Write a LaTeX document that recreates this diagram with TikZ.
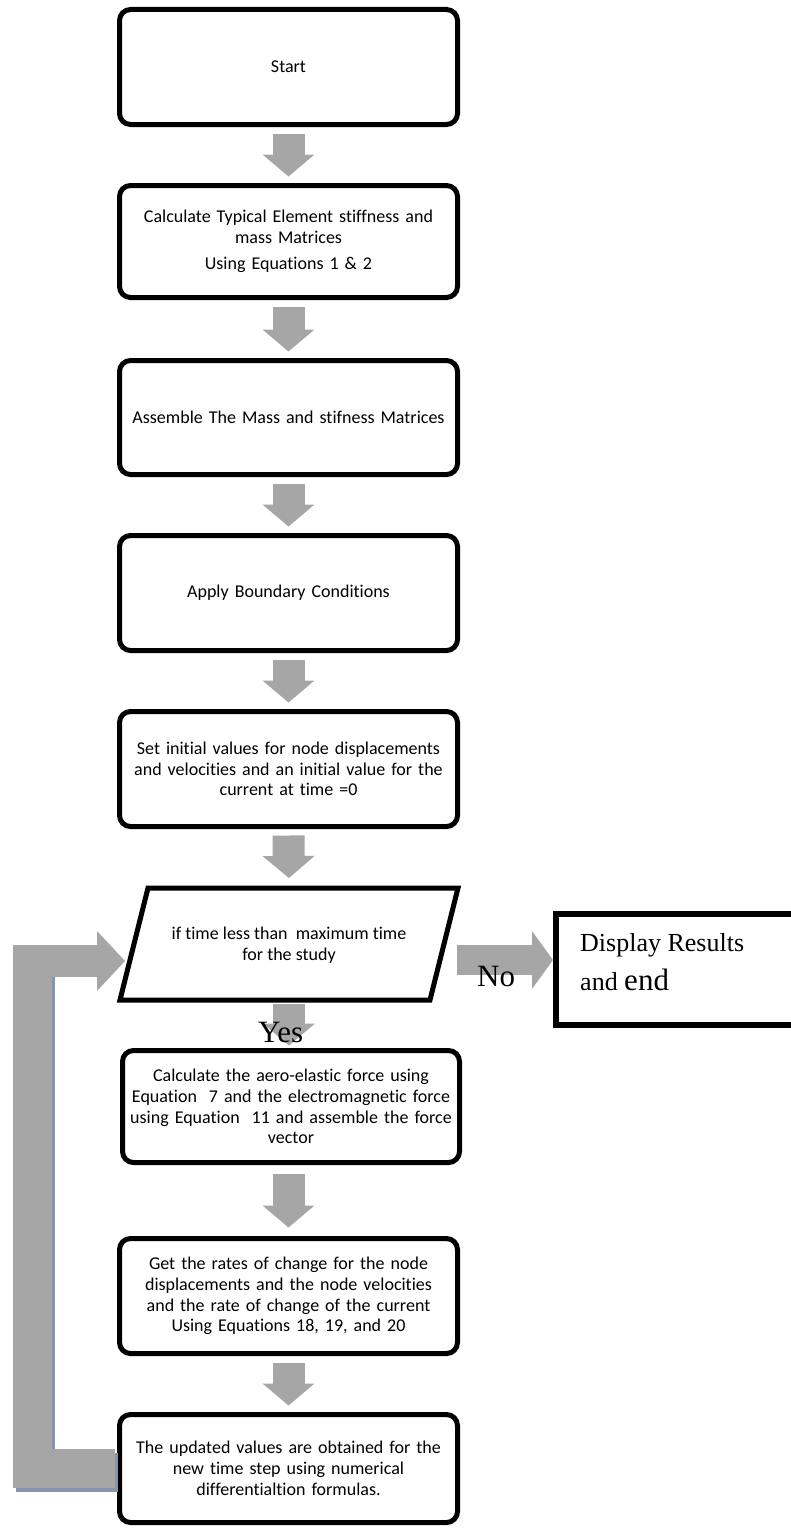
\documentclass[tikz,border=0pt]{standalone}
\usepackage{fontspec}
\setmainfont{Carlito}[Ligatures=NoCommon]
\newfontfamily\tnr{Liberation Serif}
\usetikzlibrary{arrows.meta,calc}
\definecolor{arrowgrey}{HTML}{A6A6A6}
\definecolor{shadowblue}{HTML}{8796AE}
\begin{document}
\begin{tikzpicture}[x=1pt,y=-1pt,
  stepbox/.style={draw, line width=5pt, rounded corners=11pt, outer sep=0pt, inner sep=0pt,
    minimum width=338pt, text width=336pt, align=center,
    font=\fontsize{18}{20.7}\selectfont},
  flowarrow/.style={arrowgrey, line width=32pt, shorten <=9pt, shorten >=9pt,
    -{Triangle[length=22pt,width=52pt,line width=0pt]}},
  noarrow/.style={arrowgrey, line width=30pt,
    -{Triangle[length=21pt,width=58pt,line width=0pt]}},
  looparrow/.style={arrowgrey, line width=32pt,
    -{Triangle[length=28pt,width=60pt,line width=0pt]}},
  label/.style={inner sep=0pt, font=\tnr\fontsize{31}{36}\selectfont}
]
\useasboundingbox (0,0) rectangle (791,1528);
\fill[white] (0,0) rectangle (791,1528);
\clip (0,0) rectangle (791,1528);

% boxes
\node[stepbox, minimum height=115pt] (b1) at (288.5,67) {Start};
\node[stepbox, minimum height=112pt] (b2) at (288.5,241.5) {Calculate Typical Element stiffness and\\ mass Matrices\\[6pt] Using Equations 1 \& 2};
\node[stepbox, minimum height=114pt] (b3) at (288.5,417.5) {Assemble The Mass and stifness Matrices};
\node[stepbox, minimum height=115pt] (b4) at (288.5,593) {Apply Boundary Conditions};
\node[stepbox, minimum height=115pt] (b5) at (288.5,769) {Set initial values for node displacements\\ and velocities and an initial value for the\\ current at time =0};

% decision parallelogram
\coordinate (ptl) at (148,888);
\coordinate (ptr) at (458,888);
\coordinate (pbr) at (430,1000);
\coordinate (pbl) at (120,1000);
\coordinate (ptop) at (289,888);
\coordinate (pbot) at (289,1000);
\draw[line width=5pt, line join=miter] (ptl) -- (ptr) -- (pbr) -- (pbl) -- cycle;
\node[align=center, inner sep=0pt, font=\fontsize{18}{20.5}\selectfont] (dec) at (289,945) {if time less than\ \ maximum time\\ for the study};

\node[stepbox, minimum width=337pt, minimum height=112pt] (b6) at (291,1106.5) {Calculate the aero-elastic force using\\ Equation\ \ 7 and the electromagnetic force\\ using Equation\ \ 11 and assemble the force\\ vector};
\node[stepbox, minimum height=115pt] (b7) at (288.5,1296) {Get the rates of change for the node\\ displacements and the node velocities\\ and the rate of change of the current\\ Using Equations 18, 19, and 20};
\node[stepbox, minimum height=108pt] (b8) at (288.5,1468.5) {The updated values are obtained for the\\ new time step using numerical\\ differentialtion formulas.};

% result box
\node[draw, line width=6pt, outer sep=0pt, inner sep=0pt, minimum width=238pt, minimum height=111pt] (disp) at (675,969.5) {};
\node[anchor=base west, inner sep=0pt, font=\tnr\fontsize{26}{30}\selectfont] (disp1) at (580,951) {Display Results};
\node[anchor=base west, inner sep=0pt, font=\tnr\fontsize{26}{30}\selectfont] (disp2) at (580,990) {and {\fontsize{31}{34}\selectfont end}};

% down arrows
\draw[flowarrow] (b1) -- (b2);
\draw[flowarrow] (b2) -- (b3);
\draw[flowarrow] (b3) -- (b4);
\draw[flowarrow] (b4) -- (b5);
\draw[flowarrow, shorten >=10pt] (b5.south) -- (ptop);
\draw[flowarrow, shorten <=4pt, shorten >=5pt] (pbot) -- (pbot |- b6.north);
\draw[flowarrow, shorten <=11pt, shorten >=11pt] (b7.north |- b6.south) -- (b7.north);
\draw[flowarrow] (b7) -- (b8);

% No arrow
\coordinate (nostart) at (457,960);
\draw[noarrow, shorten >=3pt] (nostart) -- (nostart -| disp.west);

% loop back arrow
\coordinate (lcorner) at (32.5,1468.5);
\coordinate (ltop) at (32.5,945);
\coordinate (lstart) at (13,961);
\coordinate (pin) at (125,961);
\draw[shadowblue, line width=38.5pt, line join=miter, shorten <=4.5pt]
  ([shift={(3,4)}]b8.west) -- ([shift={(3,4)}]lcorner) -- ([shift={(3,4)}]ltop);
\draw[arrowgrey, line width=38.5pt, line join=miter, shorten <=4.5pt]
  (b8.west) -- (lcorner) -- (ltop);
\draw[looparrow] (lstart) -- (pin);

% labels
\node[label, anchor=base west] (no) at (477,986) {No};
\node[label, anchor=base west] (yes) at (258,1042) {Yes};
\end{tikzpicture}
\end{document}
